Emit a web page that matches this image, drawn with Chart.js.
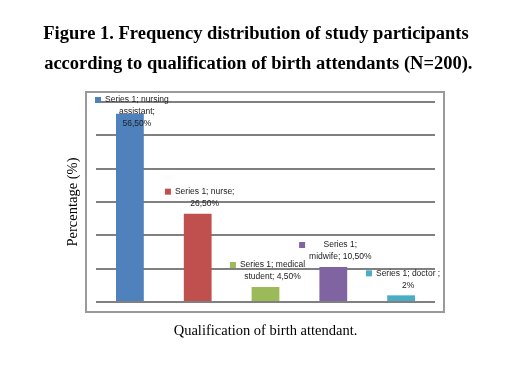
<!DOCTYPE html>
<html>
<head>
<meta charset="utf-8">
<script src="https://cdn.jsdelivr.net/npm/chart.js@4"></script>
<style>
  html, body { margin: 0; padding: 0; background: #fff; }
  #wrap { width: 528px; height: 369px; }
</style>
</head>
<body>
<div id="wrap"><canvas id="chart"></canvas></div>
<script>
const titleLines = [
  'Figure 1. Frequency distribution of study participants',
  ' according to qualification of birth attendants (N=200).'
];
const categories = ['nursing assistant', 'nurse', 'medical student', 'midwife', 'doctor'];
const values = [56.5, 26.5, 4.5, 10.5, 2];
const barColors = ['#4F81BD', '#C0504D', '#9BBB59', '#8064A2', '#4BACC6'];
const labelLines = [
  ['Series 1; nursing', 'assistant;', '56,50%'],
  ['Series 1; nurse;', '26,50%'],
  ['Series 1; medical', 'student; 4,50%'],
  ['Series 1;', 'midwife; 10,50%'],
  ['Series 1; doctor ;', '2%']
];
const yMax = 60;
const yStep = 10;

// box round the plot, like the excel chart frame
const frame = {
  id: 'frame',
  beforeDraw(chart) {
    const a = chart.chartArea, ctx = chart.ctx;
    ctx.save();
    ctx.strokeStyle = '#9a9a9a';
    ctx.lineWidth = 2;
    ctx.strokeRect(a.left - 10, a.top - 10, a.right - a.left + 19, a.bottom - a.top + 20);
    ctx.restore();
  }
};

// data labels with the little legend key in front
const barLabels = {
  id: 'barLabels',
  afterDatasetsDraw(chart) {
    const ctx = chart.ctx;
    const meta = chart.getDatasetMeta(0);
    ctx.save();
    ctx.font = '8.5px "Liberation Sans", Arial, sans-serif';
    ctx.fillStyle = '#222';
    ctx.textAlign = 'center';
    ctx.textBaseline = 'middle';
    meta.data.forEach((bar, i) => {
      const lines = labelLines[i];
      const cx = bar.x + 7;
      const y0 = Math.max(bar.y - 22, chart.chartArea.top - 2);
      const w = Math.max(...lines.map(l => ctx.measureText(l).width));
      lines.forEach((l, j) => ctx.fillText(l, cx, y0 + j * 12));
      ctx.fillStyle = barColors[i];
      ctx.fillRect(cx - w / 2 - 10, y0 - 3, 6, 6);
      ctx.fillStyle = '#222';
    });
    ctx.restore();
  }
};

new Chart(document.getElementById('chart'), {
  type: 'bar',
  data: {
    labels: categories,
    datasets: [{
      label: 'Series 1',
      data: values,
      backgroundColor: barColors,
      categoryPercentage: 1,
      barPercentage: 0.41
    }]
  },
  options: {
    responsive: true,
    maintainAspectRatio: false,
    animation: false,
    layout: { padding: { left: 0, right: 16, top: 0, bottom: 0 } },
    plugins: {
      legend: { display: false },
      tooltip: { enabled: false },
      title: {
        display: true,
        text: titleLines,
        color: '#000',
        font: { family: '"Liberation Serif", "Times New Roman", serif', size: 18.5, weight: 'bold', lineHeight: '30px' },
        padding: { top: 19, bottom: 23 }
      }
    },
    scales: {
      x: {
        grid: { display: false },
        border: { display: false },
        ticks: { display: false },
        title: {
          display: true,
          text: 'Qualification of birth attendant.',
          color: '#000',
          font: { family: '"Liberation Serif", "Times New Roman", serif', size: 14.5 },
          padding: { top: 0, bottom: 29 }
        },
        afterFit(s) { s.height = 67; }
      },
      y: {
        min: 0,
        max: yMax,
        ticks: { display: false, stepSize: yStep },
        grid: { color: '#808080', lineWidth: 2, drawTicks: false },
        border: { display: false },
        title: {
          display: true,
          text: 'Percentage (%)',
          color: '#000',
          font: { family: '"Liberation Serif", "Times New Roman", serif', size: 14.5 },
          padding: { top: 64, bottom: 0 }
        },
        afterFit(s) { s.width = 96; }
      },
      y2: {
        position: 'right',
        display: true,
        grid: { display: false },
        border: { display: false },
        ticks: { display: false },
        afterFit(s) { s.width = 77; }
      }
    }
  },
  plugins: [frame, barLabels]
});
</script>
</body>
</html>
